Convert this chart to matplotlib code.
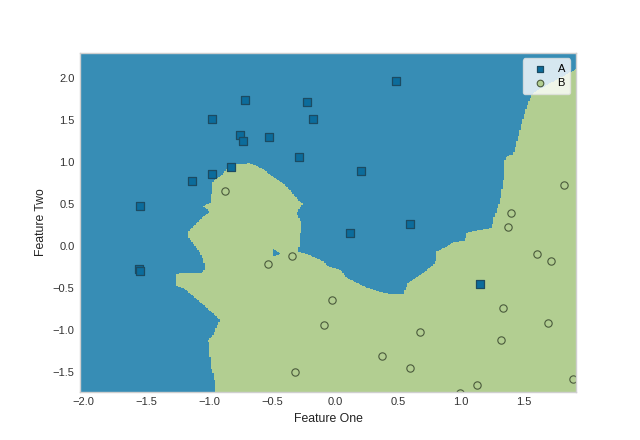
import matplotlib
matplotlib.use("Agg")
import matplotlib.pyplot as plt
from matplotlib.path import Path
from matplotlib.colors import ListedColormap
import numpy as np

# ---- data ----
class_names = ["A", "B"]

a_x = [0.482, -0.717, -0.225, -0.976, -0.177, -0.754, -0.733, -0.526, -0.288,
       0.204, -0.828, -0.976, -1.135, -1.550, 0.117, 0.593, -1.558, -1.548, 1.148]
a_y = [1.964, 1.730, 1.706, 1.515, 1.504, 1.313, 1.242, 1.289, 1.051,
       0.885, 0.932, 0.849, 0.765, 0.468, 0.146, 0.254, -0.274, -0.306, -0.461]

b_x = [-0.871, 1.820, 1.399, 1.375, -0.529, -0.339, -0.021, -0.085, -0.315, 1.606,
       1.717, 0.677, 1.336, 1.693, 1.320, 0.375, 0.598, 1.129, 1.889, 0.992]
b_y = [0.651, 0.723, 0.389, 0.223, -0.218, -0.123, -0.646, -0.944, -1.504, -0.099,
       -0.182, -1.027, -0.742, -0.920, -1.123, -1.313, -1.456, -1.658, -1.583, -1.754]

# decision region of class B (outline)
region_b_x = [-0.947, -0.958, -0.979, -0.992, -1.006, -0.966, -0.939, -0.913, -0.966, -1.018,
              -1.071, -1.125, -1.177, -1.217, -1.262, -1.256, -1.230, -1.058, -1.032, -1.045,
              -1.071, -1.111, -1.138, -1.172, -1.164, -1.111, -1.058, -1.032, -0.992, -1.045,
              -1.032, -0.992, -0.979, -0.966, -0.939, -0.899, -0.860, -0.807, -0.675, -0.648,
              -0.595, -0.490, -0.410, -0.357, -0.278, -0.252, -0.304, -0.264, -0.283, -0.291,
              -0.198, -0.093, -0.053, 0.040, 0.093, 0.225, 0.331, 0.437, 0.542, 0.582,
              0.648, 0.754, 0.794, 0.807, 0.887, 0.939, 1.032, 1.045, 1.085, 1.244,
              1.262, 1.310, 1.336, 1.349, 1.375, 1.415, 1.429, 1.482, 1.508, 1.548,
              1.571, 1.95, 1.95]
region_b_y = [-1.80, -1.556, -1.476, -1.318, -1.119, -1.060, -0.961, -0.881, -0.801, -0.742,
              -0.682, -0.604, -0.544, -0.504, -0.485, -0.345, -0.325, -0.325, -0.286, -0.167,
              -0.087, -0.008, 0.051, 0.111, 0.170, 0.250, 0.330, 0.369, 0.408, 0.468,
              0.488, 0.508, 0.627, 0.786, 0.806, 0.845, 0.905, 0.964, 0.976, 0.964,
              0.925, 0.825, 0.746, 0.667, 0.527, 0.508, 0.389, 0.270, -0.008, -0.068,
              -0.119, -0.187, -0.254, -0.286, -0.385, -0.485, -0.544, -0.583, -0.583, -0.444,
              -0.385, -0.265, -0.206, -0.068, -0.008, 0.039, 0.060, 0.151, 0.170, 0.211,
              0.330, 0.548, 0.786, 1.039, 1.071, 1.080, 1.158, 1.456, 1.595, 1.754,
              1.821, 2.14, -1.80]

# small island of class A inside region B
island_a_x = [-0.500, -0.490, -0.431]
island_a_y = [-0.027, -0.127, -0.095]

xlim = (-2.024, 1.913)
ylim = (-1.738, 2.298)
xticks = [-2.0, -1.5, -1.0, -0.5, 0.0, 0.5, 1.0, 1.5]
yticks = [-1.5, -1.0, -0.5, 0.0, 0.5, 1.0, 1.5, 2.0]

# ---- style ----
blue_region = "#378db5"
green_region = "#b2ce91"
a_face = "#0b6c9c"
a_edge = "#1c4b62"
b_face = "#b2ce91"
b_edge = "#4a5a3c"

plt.rcParams["font.family"] = ["Liberation Sans", "DejaVu Sans"]

fig = plt.figure(figsize=(6.4, 4.4), dpi=100)
ax = fig.add_subplot(111)
fig.subplots_adjust(left=0.125, right=0.9, bottom=0.11, top=0.88)

# rasterised decision mesh (like a classifier's prediction grid)
step = 0.012
gx = np.arange(xlim[0] - step, xlim[1] + step, step)
gy = np.arange(ylim[0] - step, ylim[1] + step, step)
xx, yy = np.meshgrid(gx, gy)
pts = np.column_stack([xx.ravel(), yy.ravel()])
in_b = Path(np.column_stack([region_b_x, region_b_y])).contains_points(pts)
in_island = Path(np.column_stack([island_a_x, island_a_y])).contains_points(pts)
zz = (in_b & ~in_island).astype(float).reshape(xx.shape)
ax.pcolormesh(xx, yy, zz, cmap=ListedColormap([blue_region, green_region]),
              vmin=0, vmax=1, shading="nearest", zorder=1)

ax.scatter(a_x, a_y, marker="s", s=26, c=a_face, edgecolors=a_edge, linewidths=0.9,
           label=class_names[0], zorder=3)
ax.scatter(b_x, b_y, marker="o", s=28, c=b_face, edgecolors=b_edge, linewidths=0.8,
           label=class_names[1], zorder=3)

ax.set_xlim(*xlim)
ax.set_ylim(*ylim)
ax.set_xticks(xticks)
ax.set_yticks(yticks)
ax.tick_params(length=0, labelsize=8, colors="#333333", pad=4)
ax.set_xlabel("Feature One", fontsize=8.8, color="#222222")
ax.set_ylabel("Feature Two", fontsize=8.8, color="#222222")
for sp in ax.spines.values():
    sp.set_color("#cfcfcf")
    sp.set_linewidth(1.0)
    sp.set_zorder(4)

leg = ax.legend(loc="upper right", fontsize=8, frameon=True, fancybox=True,
                framealpha=0.8, edgecolor="#e0e0e0", handletextpad=0.6,
                borderpad=0.5, markerscale=0.9, labelspacing=0.4)
leg.get_frame().set_facecolor("white")
leg.set_zorder(5)

fig.savefig("out.png", dpi=100)
